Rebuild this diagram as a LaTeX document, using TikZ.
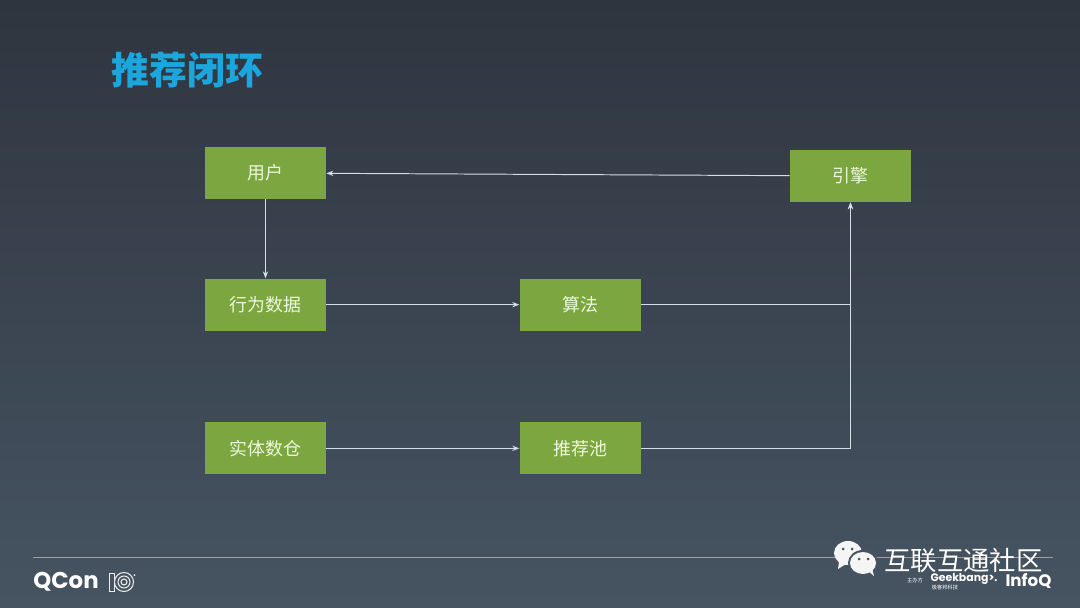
\documentclass[tikz,border=0pt]{standalone}
\usepackage{fontspec}
\setmainfont{Noto Sans CJK SC}
\newfontfamily\logofont{Poppins}
\usepackage{xcolor}
\usetikzlibrary{arrows.meta,positioning}
\definecolor{bgtop}{HTML}{2F353F}
\definecolor{bgbot}{HTML}{465462}
\definecolor{boxgreen}{HTML}{7CA63F}
\definecolor{boxtext}{HTML}{EEF7DC}
\definecolor{titleblue}{HTML}{1BA6DE}
\definecolor{linegray}{HTML}{D5DDE6}
\begin{document}
\begin{tikzpicture}[x=0.02cm,y=-0.02cm,box/.style={fill=boxgreen,text=boxtext,font=\fontsize{10.2pt}{12pt}\selectfont,minimum width=2.42cm,minimum height=1.04cm,inner sep=0pt},arrow/.style={-{Stealth[length=4pt,width=3pt]},draw=linegray,line width=0.55pt},logo/.style={text=white,inner sep=0pt}]
\fill[top color=bgtop,bottom color=bgbot] (0,0) rectangle (1080,608);
\useasboundingbox (0,0) rectangle (1080,608);
\node[text=titleblue,inner sep=0pt,font=\fontsize{21.5pt}{24pt}\selectfont\bfseries] (title) at (187.5,70) {推荐闭环};
\node[box] (user) at (265.5,173) {用户};
\node[box,below=1.58cm of user] (behavior) {行为数据};
\node[box,below=1.82cm of behavior] (entity) {实体数仓};
\node[box,right=3.86cm of behavior] (algo) {算法};
\node[box,right=3.86cm of entity] (pool) {推荐池};
\node[box] (engine) at (850.5,176) {引擎};
\draw[arrow] (engine) -- (user);
\draw[arrow] (user) -- (behavior);
\draw[arrow] (behavior) -- (algo);
\draw[arrow] (entity) -- (pool);
\draw[arrow] (algo) -| (engine);
\draw[arrow] (pool) -| (engine);
% footer
\draw[draw=gray!75,line width=0.4pt] (33,557.5) -- (1053,557.5);
\node[logo,font=\logofont\bfseries\fontsize{13pt}{15pt}\selectfont] (qcon) at (66,581.5) {QCon};
\draw[white!85!gray,line width=0.5pt] (109.5,573) rectangle (114.5,591);
\foreach \r in {3,6,9.5}{\draw[white!85!gray,line width=0.6pt] (124,582) circle[radius=\r];}
\fill[white!85!gray] (134.5,575) circle[radius=1];
% watermark
\fill[white!92!gray] (848,553) ellipse[x radius=14,y radius=12];
\fill[white!92!gray] (839,562) -- (838,569) -- (846,564) -- cycle;
\fill[bgbot] (863,563) ellipse[x radius=15,y radius=13];
\fill[white!92!gray] (863,563) ellipse[x radius=13,y radius=11];
\fill[white!92!gray] (868,571) -- (874,576) -- (872,568) -- cycle;
\foreach \cx/\cy in {843/549,852/549,859/559,868/559}{\fill[bgbot] (\cx,\cy) circle[radius=1.5];}
\node[logo,font=\fontsize{15pt}{17pt}\selectfont] (wechat) at (963.5,560.5) {互联互通社区};
\node[logo,font=\fontsize{3pt}{4pt}\selectfont] (host) at (915,580.5) {主办方};
\node[logo,font=\logofont\bfseries\fontsize{6.2pt}{8pt}\selectfont] (geek) at (964,578.5) {Geekbang>.};
\node[logo,font=\fontsize{3pt}{4pt}\selectfont] (geekcn) at (945,587.5) {极客邦科技};
\node[logo,font=\logofont\bfseries\fontsize{9.5pt}{10pt}\selectfont] (infoq) at (1028.5,580.5) {InfoQ};
\end{tikzpicture}
\end{document}
